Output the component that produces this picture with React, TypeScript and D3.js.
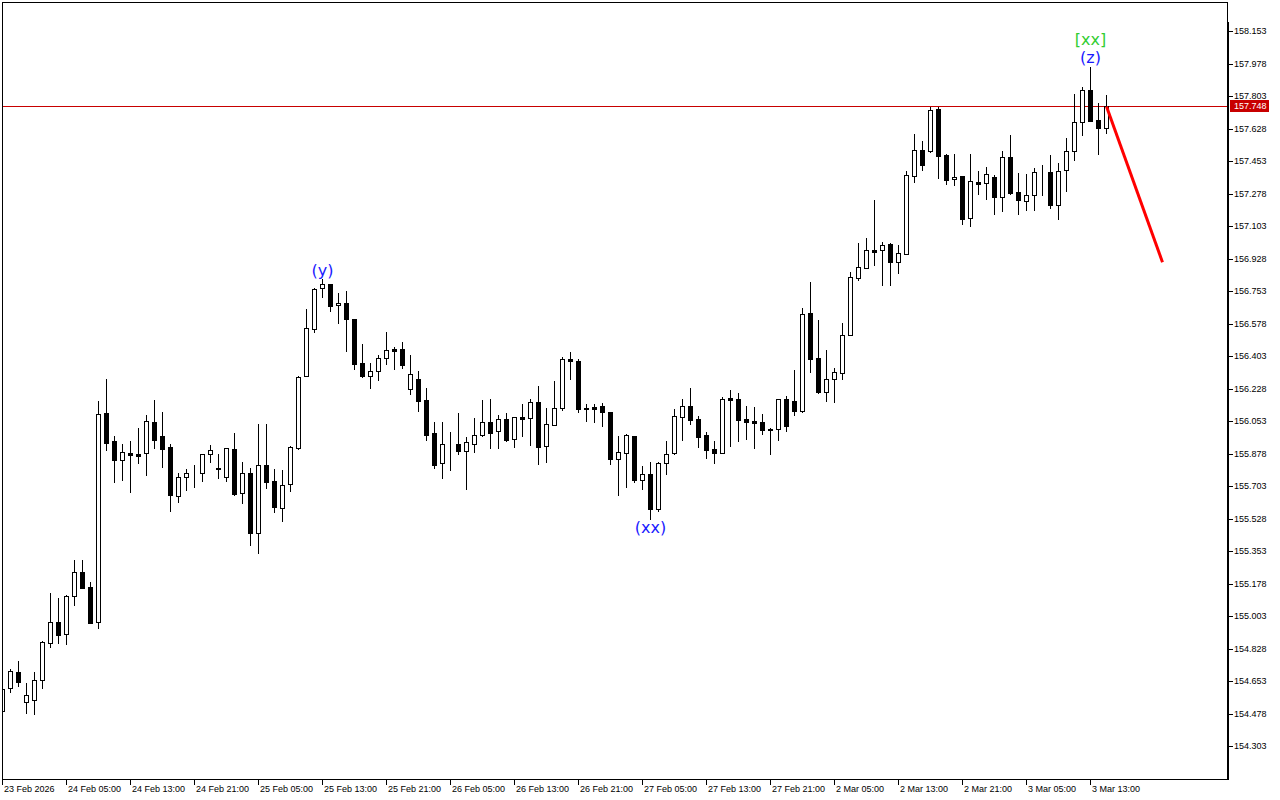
import React from "react";
import * as d3 from "d3";

// H1 candles, 23 Feb 2026 21:00 .. 3 Mar 2026 15:00
const opens = [
  154.493, 154.615, 154.701, 154.539, 154.550, 154.658, 154.857, 154.970, 154.906, 155.110,
  155.239, 155.159, 154.970, 156.096, 155.946, 155.846, 155.880, 155.875, 155.880, 156.049,
  155.972, 155.914, 155.652, 155.751, 155.772, 155.772, 155.875, 155.799, 155.754, 155.902,
  155.665, 155.772, 155.453, 155.816, 155.731, 155.587, 155.713, 155.910, 156.298, 156.549,
  156.769, 156.792, 156.677, 156.689, 156.603, 156.366, 156.298, 156.322, 156.392, 156.440,
  156.440, 156.228, 156.279, 156.166, 155.988, 155.826, 155.934, 155.929, 155.894, 155.929,
  155.977, 156.047, 155.999, 156.063, 155.956, 156.074, 156.069, 156.156, 155.921, 156.031,
  156.126, 156.386, 156.376, 156.122, 156.128, 156.133, 156.103, 155.848, 155.883, 155.973,
  155.738, 155.769, 155.579, 155.826, 155.883, 156.077, 156.135, 156.065, 155.979, 155.903,
  155.883, 156.178, 156.173, 156.065, 156.054, 156.049, 156.009, 156.013, 156.173, 156.162,
  156.106, 156.636, 156.392, 156.212, 156.279, 156.311, 156.516, 156.826, 156.880, 156.975,
  156.973, 157.006, 156.912, 156.952, 157.372, 157.512, 157.506, 157.734, 157.486, 157.356,
  157.373, 157.146, 157.339, 157.337, 157.368, 157.262, 157.474, 157.286, 157.240, 157.273,
  157.395, 157.395, 157.219, 157.407, 157.510, 157.666, 157.835, 157.673, 157.633,
];
const highs = [
  154.627, 154.719, 154.762, 154.642, 154.701, 154.869, 155.128, 155.099, 155.116, 155.304,
  155.304, 155.187, 156.162, 156.280, 155.973, 155.930, 155.946, 156.015, 156.085, 156.167,
  156.103, 155.930, 155.774, 155.796, 155.817, 155.876, 155.925, 155.875, 155.908, 155.991,
  155.833, 155.799, 156.040, 156.040, 155.796, 155.790, 155.921, 156.296, 156.657, 156.770,
  156.817, 156.793, 156.742, 156.752, 156.604, 156.467, 156.365, 156.408, 156.533, 156.451,
  156.481, 156.409, 156.323, 156.230, 156.049, 156.049, 155.995, 156.097, 155.968, 156.070,
  156.167, 156.173, 156.086, 156.097, 156.075, 156.146, 156.173, 156.243, 156.124, 156.269,
  156.399, 156.426, 156.387, 156.146, 156.146, 156.151, 156.104, 155.973, 155.984, 155.974,
  155.812, 155.833, 155.832, 155.946, 156.119, 156.173, 156.232, 156.083, 155.995, 155.946,
  156.183, 156.221, 156.205, 156.135, 156.129, 156.092, 156.016, 156.172, 156.189, 156.330,
  156.664, 156.803, 156.598, 156.436, 156.338, 156.580, 156.855, 157.013, 157.039, 157.244,
  157.018, 157.011, 157.002, 157.400, 157.600, 157.562, 157.746, 157.746, 157.492, 157.492,
  157.374, 157.492, 157.400, 157.422, 157.379, 157.508, 157.594, 157.389, 157.384, 157.416,
  157.432, 157.486, 157.443, 157.578, 157.815, 157.851, 157.959, 157.766, 157.809,
];
const lows = [
  154.482, 154.596, 154.629, 154.480, 154.475, 154.618, 154.839, 154.860, 154.855, 155.065,
  155.154, 154.966, 154.941, 155.898, 155.727, 155.736, 155.672, 155.828, 155.763, 155.910,
  155.808, 155.571, 155.620, 155.683, 155.700, 155.733, 155.835, 155.746, 155.733, 155.656,
  155.614, 155.386, 155.342, 155.695, 155.566, 155.517, 155.679, 155.905, 156.297, 156.533,
  156.720, 156.648, 156.583, 156.433, 156.332, 156.293, 156.233, 156.276, 156.363, 156.336,
  156.341, 156.201, 156.110, 155.953, 155.803, 155.749, 155.792, 155.878, 155.690, 155.889,
  155.975, 155.910, 155.910, 155.948, 155.916, 155.975, 155.926, 155.824, 155.835, 156.030,
  156.115, 156.282, 156.104, 156.056, 156.050, 156.029, 155.824, 155.656, 155.700, 155.727,
  155.688, 155.528, 155.571, 155.770, 155.878, 155.953, 156.040, 155.916, 155.856, 155.830,
  155.882, 155.921, 155.948, 155.959, 155.910, 155.986, 155.878, 155.953, 156.002, 156.088,
  156.105, 156.320, 156.206, 156.163, 156.155, 156.279, 156.515, 156.813, 156.879, 156.894,
  156.786, 156.786, 156.853, 156.951, 157.343, 157.407, 157.505, 157.364, 157.332, 157.323,
  157.116, 157.106, 157.276, 157.251, 157.170, 157.186, 157.278, 157.170, 157.192, 157.192,
  157.273, 157.203, 157.143, 157.294, 157.461, 157.596, 157.667, 157.493, 157.606,
];
const closes = [
  154.611, 154.706, 154.650, 154.577, 154.658, 154.862, 154.970, 154.903, 155.110, 155.239,
  155.156, 154.968, 156.090, 155.937, 155.846, 155.886, 155.873, 155.867, 156.054, 155.953,
  155.905, 155.657, 155.751, 155.772, 155.773, 155.875, 155.896, 155.794, 155.907, 155.661,
  155.772, 155.453, 155.816, 155.727, 155.593, 155.708, 155.912, 156.289, 156.553, 156.763,
  156.792, 156.675, 156.689, 156.605, 156.363, 156.298, 156.322, 156.392, 156.436, 156.433,
  156.357, 156.306, 156.163, 155.980, 155.819, 155.929, 155.933, 155.894, 155.939, 155.977,
  156.047, 155.991, 156.063, 155.953, 156.074, 156.066, 156.156, 155.916, 156.036, 156.122,
  156.386, 156.376, 156.120, 156.121, 156.120, 156.101, 155.851, 155.886, 155.979, 155.736,
  155.767, 155.582, 155.828, 155.876, 156.081, 156.135, 156.059, 155.970, 155.900, 155.883,
  156.173, 156.169, 156.061, 156.050, 156.045, 156.007, 156.008, 156.171, 156.029, 156.110,
  156.630, 156.390, 156.210, 156.280, 156.316, 156.516, 156.828, 156.882, 156.973, 156.966,
  157.000, 156.912, 156.957, 157.377, 157.513, 157.434, 157.729, 157.483, 157.353, 157.368,
  157.143, 157.345, 157.332, 157.383, 157.262, 157.474, 157.283, 157.246, 157.273, 157.395,
  157.396, 157.219, 157.400, 157.508, 157.666, 157.835, 157.668, 157.633, 157.748,
];

const timeLabels = [
  "23 Feb 2026", "24 Feb 05:00", "24 Feb 13:00", "24 Feb 21:00", "25 Feb 05:00", "25 Feb 13:00",
  "25 Feb 21:00", "26 Feb 05:00", "26 Feb 13:00", "26 Feb 21:00", "27 Feb 05:00", "27 Feb 13:00",
  "27 Feb 21:00", "2 Mar 05:00", "2 Mar 13:00", "2 Mar 21:00", "3 Mar 05:00", "3 Mar 13:00",
];
const timeLabelIndex = [0, 8, 16, 24, 32, 40, 48, 56, 64, 72, 80, 88, 96, 104, 112, 120, 128, 136];

const priceLabels = [
  "154.303", "154.478", "154.653", "154.828", "155.003", "155.178", "155.353", "155.528",
  "155.703", "155.878", "156.053", "156.228", "156.403", "156.578", "156.753", "156.928",
  "157.103", "157.278", "157.453", "157.628", "157.803", "157.978", "158.153",
];
const lastPrice = 157.748;

const projIndex = [138, 145];
const projPrice = [157.748, 156.909];

const waveTexts = ["(y)", "(xx)", "(z)", "[xx]"];
const waveIndex = [40, 81, 136, 136];
const wavePrice = [156.867, 155.483, 158.009, 158.111];
const waveColors = ["#1a1aff", "#1a1aff", "#1a1aff", "#32cd32"];

const W = 1280;
const H = 800;
const left = 2;
const right = 1227;
const top = 2;
const bottom = 779;

export default function App() {
  const x = d3.scaleLinear().domain([0, 153.125]).range([left, right]);
  const y = d3.scaleLinear().domain([154.303, 158.153]).range([746.2, 31.2]);
  const axisFont = "'Liberation Sans', Arial, sans-serif";
  const projLine = d3
    .line<number>()
    .x((_, i) => x(projIndex[i]) + 0.5)
    .y((d) => y(d));

  const lastY = Math.round(y(lastPrice));

  return (
    <svg
      width={W}
      height={H}
      style={{ position: "absolute", left: 0, top: 0, background: "#fff" }}
    >
      <rect x={0} y={0} width={W} height={H} fill="#fff" />
      <defs>
        <clipPath id="plot">
          <rect x={left + 1} y={top + 1} width={right - left - 1} height={bottom - top - 1} />
        </clipPath>
      </defs>

      {/* last price line */}
      <line
        x1={left}
        x2={right}
        y1={lastY + 0.5}
        y2={lastY + 0.5}
        stroke="#c80000"
        strokeWidth={1}
        shapeRendering="crispEdges"
      />

      <g clipPath="url(#plot)" shapeRendering="crispEdges">
        {opens.map((o, i) => {
          const c = closes[i];
          const cx = Math.round(x(i));
          const yH = Math.round(y(highs[i]));
          const yL = Math.round(y(lows[i]));
          const yT = Math.round(y(Math.max(o, c)));
          const yB = Math.round(y(Math.min(o, c)));
          const bull = c >= o;
          return (
            <g key={i}>
              <line x1={cx + 0.5} x2={cx + 0.5} y1={yH} y2={yL + 1} stroke="#000" strokeWidth={1} />
              <rect
                x={cx - 1.5}
                y={yT + 0.5}
                width={4}
                height={Math.max(0, yB - yT)}
                fill={bull ? "#fff" : "#000"}
                stroke="#000"
                strokeWidth={1}
              />
            </g>
          );
        })}
      </g>

      {/* projection */}
      <path d={projLine(projPrice) || ""} fill="none" stroke="#ff0000" strokeWidth={3} />

      {/* wave labels */}
      {waveTexts.map((t, i) => (
        <text
          key={t + i}
          x={x(waveIndex[i]) + 0.5}
          y={y(wavePrice[i])}
          fill={waveColors[i]}
          fontFamily="'DejaVu Sans', Verdana, sans-serif"
          fontSize={16}
          textAnchor="middle"
          dominantBaseline="central"
        >
          {t}
        </text>
      ))}

      {/* frame */}
      <rect
        x={left + 0.5}
        y={top + 0.5}
        width={right - left}
        height={bottom - top}
        fill="none"
        stroke="#000"
        strokeWidth={1}
        shapeRendering="crispEdges"
      />
      <line x1={right + 1} x2={right + 1} y1={22} y2={bottom + 1} stroke="#000" strokeWidth={2} shapeRendering="crispEdges" />

      {/* price axis */}
      {priceLabels.map((p) => {
        const py = Math.round(y(parseFloat(p)));
        return (
          <g key={p}>
            <line x1={right + 2} x2={right + 6} y1={py + 0.5} y2={py + 0.5} stroke="#000" shapeRendering="crispEdges" />
            <text x={right + 7} y={py} fontFamily={axisFont} fontSize={9} fill="#000" dominantBaseline="central">
              {p}
            </text>
          </g>
        );
      })}
      <rect x={right + 3} y={lastY - 6} width={39} height={12} fill="#c80000" />
      <text x={right + 7} y={lastY} fontFamily={axisFont} fontSize={9} fill="#fff" dominantBaseline="central">
        {lastPrice.toFixed(3)}
      </text>

      {/* time axis */}
      {timeLabels.map((t, i) => {
        const tx = Math.round(x(timeLabelIndex[i]));
        return (
          <g key={t}>
            <line x1={tx + 0.5} x2={tx + 0.5} y1={bottom} y2={bottom + 6} stroke="#000" shapeRendering="crispEdges" />
            <text x={tx + 2} y={bottom + 10} fontFamily={axisFont} fontSize={9} fill="#000" dominantBaseline="central">
              {t}
            </text>
          </g>
        );
      })}
    </svg>
  );
}
